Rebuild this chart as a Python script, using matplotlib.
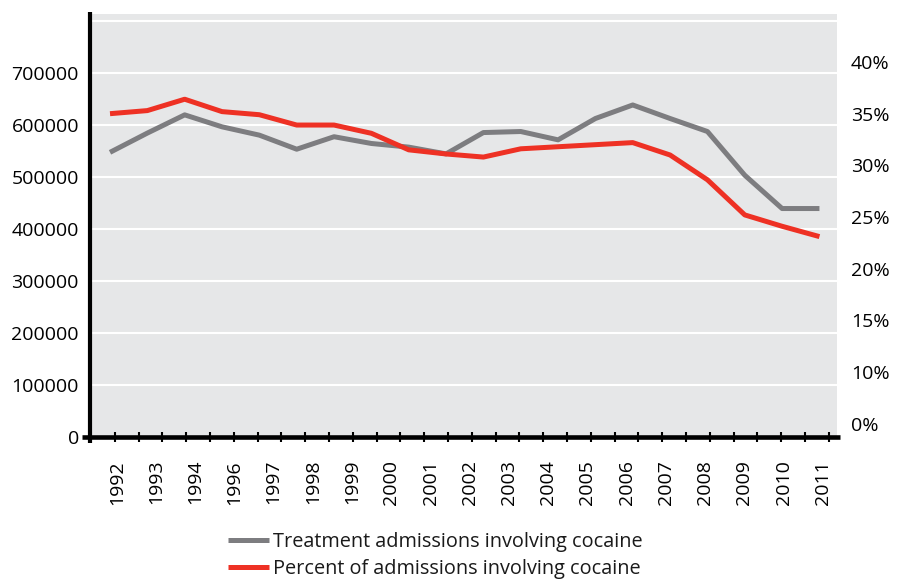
import matplotlib
matplotlib.use("Agg")
import matplotlib.pyplot as plt
import numpy as np

plt.rcParams["font.family"] = ["Open Sans", "DejaVu Sans"]
plt.rcParams["text.color"] = "#1a1a1a"

# Annual figures, 1992-2011
years = list(range(1992, 2012))
admissions = [547000, 584000, 619000, 596000, 580000, 553000, 577000, 564000,
              557000, 544000, 585000, 587000, 571000, 612000, 638000, 612000,
              587000, 503000, 439000, 439000]
percent = [35.0, 35.3, 36.4, 35.2, 34.9, 33.9, 33.9, 33.1, 31.5, 31.1,
           30.8, 31.6, 31.8, 32.0, 32.2, 31.0, 28.6, 25.2, 24.1, 23.1]

series_names = ["Treatment admissions involving cocaine",
                "Percent of admissions involving cocaine"]

# Axis tick labels
year_labels = ["1992", "1993", "1994", "1996", "1997", "1998", "1999", "2000",
               "2001", "2002", "2003", "2004", "2005", "2006", "2007", "2008",
               "2009", "2010", "2011"]
count_ticks = [0, 100000, 200000, 300000, 400000, 500000, 600000, 700000, 800000]
count_labels = ["0", "100000", "200000", "300000", "400000", "500000",
                "600000", "700000", ""]
pct_ticks = [5, 10, 15, 20, 25, 30, 35, 40]
pct_labels = ["0%", "10%", "15%", "20%", "25%", "30%", "35%", "40%"]

GRAY = "#7d7d80"
RED = "#ee3124"
PANEL = "#e6e7e8"
FS = 14

fig = plt.figure(figsize=(9.07, 5.82), dpi=100)
ax = fig.add_axes([0.09923, 0.24914, 0.82359, 0.72680])
ax.set_facecolor(PANEL)
ax.set_xlim(1991.464, 2011.47)
ax.set_ylim(0, 812800)
for s in ax.spines.values():
    s.set_visible(False)

# left scale
ax.set_yticks(count_ticks, count_labels)
ax.grid(axis="y", color="white", linewidth=1.5)
ax.set_axisbelow(True)
ax.tick_params(axis="y", length=0, pad=8, labelsize=FS)

# year labels and the evenly spaced tick marks along the base line
label_pos = np.linspace(1992.18, 2011.09, len(year_labels))
mark_pos = np.linspace(1992.13, 2011.25, 31)
ax.set_xticks(label_pos, year_labels, rotation=90)
ax.set_xticks(mark_pos, minor=True)
ax.tick_params(axis="x", which="major", length=0, pad=16.5, labelsize=FS)
ax.tick_params(axis="x", which="minor", length=7.2, width=1.5,
               direction="inout", color="black")

# heavy black axis lines
ax.plot([-0.0111, 1.004], [0, 0], transform=ax.transAxes, color="black",
        lw=3.3, solid_capstyle="butt", clip_on=False, zorder=6)
ax.plot([0, 0], [-0.0142, 1.0054], transform=ax.transAxes, color="black",
        lw=3.0, solid_capstyle="butt", clip_on=False, zorder=6)

l1, = ax.plot(years, admissions, color=GRAY, lw=3.6, solid_capstyle="butt",
              zorder=3)

# right scale for the share of admissions
ax2 = ax.twinx()
ax2.set_ylim(3.70, 44.65)
for s in ax2.spines.values():
    s.set_visible(False)
ax2.set_yticks(pct_ticks, pct_labels)
ax2.tick_params(axis="y", length=0, pad=10, labelsize=FS)
l2, = ax2.plot(years, percent, color=RED, lw=3.6, solid_capstyle="butt",
               zorder=3)

fig.legend([l1, l2], series_names, loc="upper left",
           bbox_to_anchor=(228 / 907, 1 - 532 / 582), frameon=False,
           fontsize=14.3, handlelength=2.07, handletextpad=0.2,
           labelspacing=0.33, borderpad=0, borderaxespad=0)

fig.savefig("out.png", dpi=100)
